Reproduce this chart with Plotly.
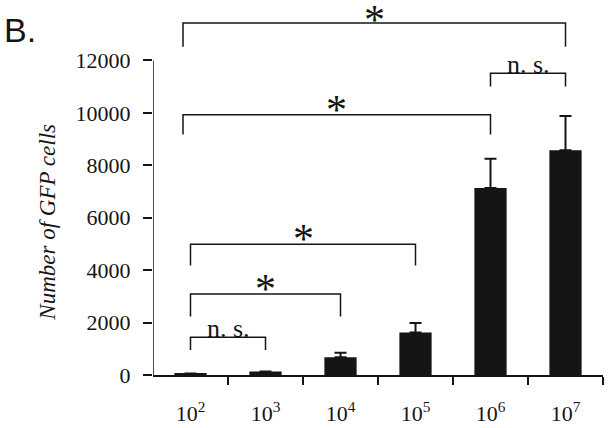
import plotly.graph_objects as go

# ---- data ----
categories = ["10<sup>2</sup>", "10<sup>3</sup>", "10<sup>4</sup>", "10<sup>5</sup>", "10<sup>6</sup>", "10<sup>7</sup>"]
values = [60, 130, 680, 1620, 7130, 8570]
errors = [None, None, 170, 360, 1120, 1310]
y_ticks = [0, 2000, 4000, 6000, 8000, 10000, 12000]

# significance brackets: left x, right x, top y, leg bottom y, label, label y
br_left = [0, 0, 0, -0.1, 4, -0.1]
br_right = [1, 2, 3, 4, 5, 5]
br_top = [1440, 3090, 4990, 9930, 11510, 13430]
br_bottom = [955, 2230, 4180, 9170, 11010, 12520]
br_label = ["n. s.", "*", "*", "*", "n. s.", "*"]
br_label_y = [1780, 3280, 5170, 10120, 11850, 13550]

INK = "#151515"
SERIF = "Liberation Serif, Times New Roman, serif"

x = list(range(len(categories)))

fig = go.Figure()
fig.add_trace(go.Bar(
    x=x, y=values, width=0.43,
    marker=dict(color=INK, line=dict(width=0)),
    error_y=dict(type="data", array=errors, arrayminus=[0] * len(errors),
                 symmetric=False, width=6, thickness=2, color=INK),
    showlegend=False,
))

shapes = []
# y-axis line from 0 to 12000
shapes.append(dict(type="line", xref="x", yref="y", x0=-0.5, x1=-0.5,
                   y0=0, y1=y_ticks[-1], line=dict(color=INK, width=1.5)))
annotations = []
for i in range(len(br_left)):
    shapes.append(dict(
        type="path", xref="x", yref="y",
        path=f"M {br_left[i]} {br_bottom[i]} L {br_left[i]} {br_top[i]} "
             f"L {br_right[i]} {br_top[i]} L {br_right[i]} {br_bottom[i]}",
        line=dict(color=INK, width=1.5),
    ))
    lab = br_label[i]
    size = 42 if lab == "*" else 26
    annotations.append(dict(
        x=(br_left[i] + br_right[i]) / 2, y=br_label_y[i], xref="x", yref="y",
        text=lab, showarrow=False, yanchor="middle", xanchor="center",
        font=dict(family=SERIF, size=size, color=INK),
    ))

annotations.append(dict(
    x=-0.2333, y=0.415, xref="paper", yref="paper", text="Number of GFP cells",
    textangle=-90, showarrow=False, xanchor="center", yanchor="middle",
    font=dict(family=SERIF, size=23, color=INK, style="italic"),
))
annotations.append(dict(
    x=-0.335, y=0.94, xref="paper", yref="paper", text="B.",
    showarrow=False, xanchor="left", yanchor="middle",
    font=dict(family="Liberation Sans, Arial, sans-serif", size=34, color=INK),
))

fig.update_layout(
    width=612, height=428,
    margin=dict(l=153, r=9, t=8, b=53, autoexpand=False),
    paper_bgcolor="white", plot_bgcolor="white",
    shapes=shapes, annotations=annotations,
    xaxis=dict(
        range=[-0.5, 5.5], tickvals=x, ticktext=categories,
        showline=True, linecolor=INK, linewidth=1.5,
        ticks="outside", ticklen=0, tickcolor="rgba(0,0,0,0)",
        ticklabelstandoff=18,
        tickfont=dict(family=SERIF, size=22, color=INK),
        showgrid=False, zeroline=False, automargin=False,
        minor=dict(tickmode="array", tickvals=[0.5, 1.5, 2.5, 3.5, 4.5, 5.5],
                   ticks="outside", ticklen=8, tickcolor=INK, tickwidth=1.5,
                   showgrid=False),
    ),
    yaxis=dict(
        range=[0, 14000], tickvals=y_ticks, ticktext=[str(v) for v in y_ticks],
        showline=False, ticks="outside", ticklen=9, tickcolor=INK, tickwidth=1.5,
        ticklabelstandoff=8,
        tickfont=dict(family=SERIF, size=22, color=INK),
        showgrid=False, zeroline=False, automargin=False,
    ),
)

fig.write_html(
    "out.html",
    config={"displayModeBar": False},
    post_script="document.body.style.margin='0';document.body.style.overflow='hidden';",
)
